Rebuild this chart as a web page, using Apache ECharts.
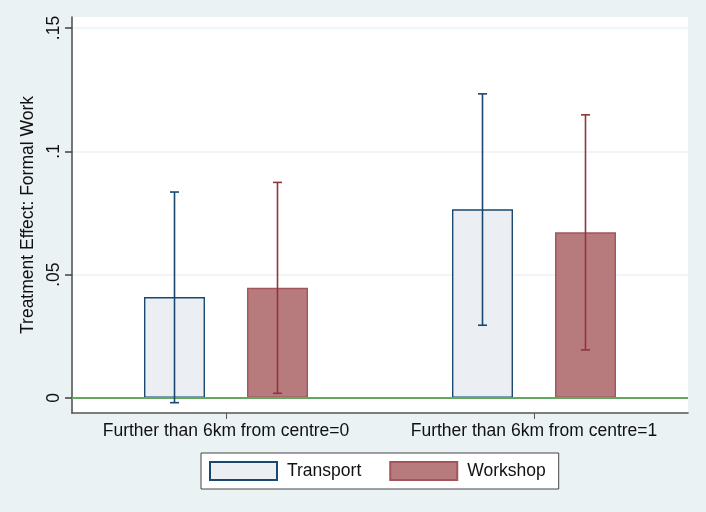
<!DOCTYPE html>
<html>
<head>
<meta charset="utf-8">
<script src="https://cdn.jsdelivr.net/npm/echarts@6/dist/echarts.min.js"></script>
<style>
  html, body { margin: 0; padding: 0; background: #eaf2f3; }
  #chart { width: 706px; height: 512px; }
</style>
</head>
<body>
<div id="chart"></div>
<script>
// Groups on the x axis
const categories = ['Further than 6km from centre=0', 'Further than 6km from centre=1'];

// Point estimates of the treatment effect
const transportEffect = [0.0409, 0.0765];
const workshopEffect = [0.0447, 0.0672];

// Confidence interval bounds [low, high]
const transportCI = [[-0.0019, 0.0835], [0.0295, 0.1233]];
const workshopCI = [[0.0019, 0.0874], [0.0195, 0.1148]];

// Y axis tick positions and their labels
const yTickValues = [0, 0.05, 0.1, 0.15];
const yTickLabels = ['0', '.05', '.1', '.15'];

const FONT = 'Liberation Sans, Arial, sans-serif';
const NAVY = '#1a476f';
const MAROON = '#90353b';
const BAR_WIDTH = 61;
const BAR_GAP_PX = 42;

function errorBarSeries(name, ci, color, side) {
  return {
    name: name + ' CI',
    type: 'custom',
    z: 5,
    silent: true,
    clip: false,
    data: ci.map((d, i) => [i, d[0], d[1]]),
    renderItem: function (params, api) {
      const idx = api.value(0);
      const lo = api.coord([idx, api.value(1)]);
      const hi = api.coord([idx, api.value(2)]);
      const x = lo[0] + side * (BAR_WIDTH + BAR_GAP_PX) / 2;
      const cap = 4.5;
      const style = { stroke: color, lineWidth: 1.6 };
      return {
        type: 'group',
        children: [
          { type: 'line', shape: { x1: x, y1: lo[1], x2: x, y2: hi[1] }, style: style },
          { type: 'line', shape: { x1: x - cap, y1: hi[1], x2: x + cap, y2: hi[1] }, style: style },
          { type: 'line', shape: { x1: x - cap, y1: lo[1], x2: x + cap, y2: lo[1] }, style: style }
        ]
      };
    }
  };
}

const chart = echarts.init(document.getElementById('chart'));
chart.setOption({
  backgroundColor: '#eaf2f3',
  animation: false,
  textStyle: { fontFamily: FONT },
  grid: {
    left: 72, right: 18, top: 17, bottom: 99,
    show: true, backgroundColor: '#ffffff', borderWidth: 0
  },
  legend: {
    data: ['Transport', 'Workshop'],
    left: 201, top: 453,
    orient: 'horizontal',
    backgroundColor: '#ffffff',
    borderColor: '#444444', borderWidth: 1, borderRadius: 0,
    padding: [8, 13, 8, 8],
    itemWidth: 67, itemHeight: 18, itemGap: 28,
    icon: 'rect',
    selectedMode: false,
    textStyle: { fontSize: 17.5, color: '#111111', fontFamily: FONT, lineHeight: 18, padding: [0, 0, 0, 5] }
  },
  xAxis: {
    type: 'category',
    data: categories,
    boundaryGap: true,
    axisLine: { show: true, onZero: false, lineStyle: { color: '#555555', width: 1.6 } },
    axisTick: { show: true, alignWithLabel: true, length: 6, lineStyle: { color: '#555555', width: 1 } },
    axisLabel: { interval: 0, fontSize: 17.5, color: '#111111', margin: 9, fontFamily: FONT },
    splitLine: { show: false }
  },
  yAxis: {
    type: 'value',
    min: -0.00608,
    max: 0.15446,
    name: 'Treatment Effect: Formal Work',
    nameLocation: 'middle',
    nameGap: 29,
    nameRotate: 90,
    nameTextStyle: { fontSize: 17.5, color: '#111111', fontFamily: FONT },
    axisLine: { show: true, onZero: false, lineStyle: { color: '#555555', width: 1.6 } },
    axisTick: { show: true, inside: false, length: 7, customValues: yTickValues, lineStyle: { color: '#4a4a4a', width: 1.6 } },
    axisLabel: {
      rotate: 90,
      fontSize: 17.5,
      color: '#111111',
      margin: 9,
      fontFamily: FONT,
      customValues: yTickValues,
      formatter: function (v) {
        const i = yTickValues.findIndex(t => Math.abs(t - v) < 1e-9);
        return i >= 0 ? yTickLabels[i] : '';
      }
    },
    splitLine: { show: true, lineStyle: { color: '#ecf2f5', width: 1.6 } }
  },
  series: [
    {
      name: 'Transport',
      type: 'bar',
      data: transportEffect,
      barWidth: BAR_WIDTH,
      barGap: (BAR_GAP_PX / BAR_WIDTH * 100).toFixed(1) + '%',
      itemStyle: { color: '#ebeff3', borderColor: NAVY, borderWidth: 1.4 },
      markLine: {
        silent: true,
        symbol: 'none',
        label: { show: false },
        lineStyle: { color: '#62a85e', width: 1.8, type: 'solid' },
        data: [{ yAxis: 0 }]
      }
    },
    {
      name: 'Workshop',
      type: 'bar',
      data: workshopEffect,
      barWidth: BAR_WIDTH,
      itemStyle: { color: '#b77b7e', borderColor: '#a2555a', borderWidth: 1.4 }
    },
    errorBarSeries('Transport', transportCI, NAVY, -1),
    errorBarSeries('Workshop', workshopCI, MAROON, 1)
  ]
});
</script>
</body>
</html>
